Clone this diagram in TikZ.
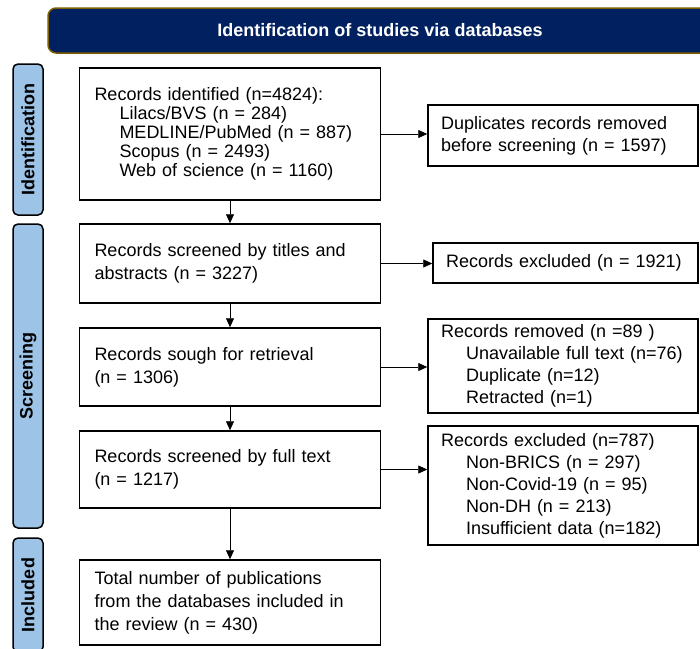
\documentclass[tikz,border=0pt]{standalone}
\usepackage{fontspec}
\setmainfont{Liberation Sans}
\usetikzlibrary{arrows.meta}
\definecolor{navy}{HTML}{002060}
\definecolor{gold}{HTML}{7F6000}
\definecolor{stage}{HTML}{9DC3E6}
\newcommand{\subln}{\hspace*{25pt}}

\begin{document}
\begin{tikzpicture}[x=1pt, y=-1pt,
    box/.style={draw, line width=1.5pt, align=left, inner xsep=15pt, inner ysep=0pt, font=\fontsize{18}{23}\selectfont},
    sidebox/.style={box, inner xsep=13pt, font=\fontsize{18}{22}\selectfont},
    stagebox/.style={draw, fill=stage, rounded corners=5pt, line width=1.5pt, rotate=90, minimum height=30pt, inner sep=0pt, font=\bfseries\fontsize{18}{22}\selectfont},
    arr/.style={-{Triangle[length=9pt,width=8pt]}, line width=0.8pt}]

        \useasboundingbox (0,0) rectangle (700,648);

        % Header
        \node[draw=gold, fill=navy, line width=1.5pt, rounded corners=8pt, minimum width=664pt, minimum height=45pt, text=white, font=\bfseries\fontsize{18}{22}\selectfont] (head) at (380, 30.5) {Identification of studies via databases};

        % Stage labels
        \node[stagebox, minimum width=151pt] (sid) at (28, 139.5) {Identification};
        \node[stagebox, minimum width=304pt] (sscr) at (28, 376) {Screening};
        \node[stagebox, minimum width=114pt] (sinc) at (28, 595) {Included};

        % Main column
        \node[box, text width=271pt, minimum height=132pt, font=\fontsize{18}{19}\selectfont] (b1) at (230, 134) {Records identified (n=4824):\\ \subln Lilacs/BVS (n = 284)\\ \subln MEDLINE/PubMed (n = 887)\\ \subln Scopus (n = 2493)\\ \subln Web of science (n = 1160)};
        \node[box, text width=271pt, minimum height=79pt] (b2) at (230, 263.5) {Records screened by titles and\\ abstracts (n = 3227)};
        \node[box, text width=271pt, minimum height=78pt] (b3) at (230, 367) {Records sough for retrieval\\ (n = 1306)};
        \node[box, text width=271pt, minimum height=77pt] (b4) at (230, 469.5) {Records screened by full text\\ (n = 1217)};
        \node[box, text width=271pt, minimum height=85pt] (b5) at (230, 602.5) {Total number of publications\\ from the databases included in\\ the review (n = 430)};

        % Side column
        \node[sidebox, text width=244pt, minimum height=61pt] (dup) at (563, 135.5) {Duplicates records removed\\ before screening (n = 1597)};
        \node[sidebox, text width=239pt, minimum height=40pt] (ex1) at (565.5, 263) {Records excluded (n = 1921)};
        \node[sidebox, text width=244pt, minimum height=94pt] (rem) at (563, 366) {Records removed (n =89 )\\ \subln Unavailable full text (n=76)\\ \subln Duplicate (n=12)\\ \subln Retracted (n=1)};
        \node[sidebox, text width=244pt, minimum height=119pt] (ex2) at (563, 485.5) {Records excluded (n=787)\\ \subln Non-BRICS (n = 297)\\ \subln Non-Covid-19 (n = 95)\\ \subln Non-DH (n = 213)\\ \subln Insufficient data (n=182)};

        % Downward arrows
        \draw[arr] (b1.south) -- (b2.north);
        \draw[arr] (b2.south) -- (b3.north);
        \draw[arr] (b3.south) -- (b4.north);
        \draw[arr] (b4.south) -- (b5.north);

        % Arrows to the side column
        \draw[arr] (b1.east) -- (b1.east -| dup.west);
        \draw[arr] (b2.east) -- (b2.east -| ex1.west);
        \draw[arr] (b3.east) -- (b3.east -| rem.west);
        \draw[arr] (b4.east) -- (b4.east -| ex2.west);

    \end{tikzpicture}
\end{document}
